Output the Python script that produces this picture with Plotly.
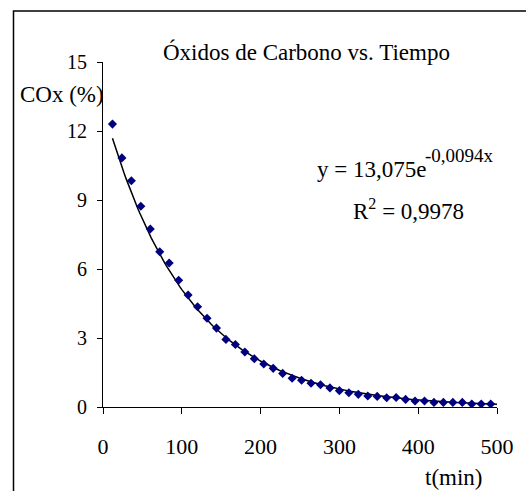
import numpy as np
import plotly.graph_objects as go

# Measured CO + CO2 content over time
tiempo_min = [12, 24, 36, 48, 60, 72, 84, 96, 108, 120, 132, 144, 156, 168, 180,
              192, 204, 216, 228, 240, 252, 264, 276, 288, 300, 312, 324, 336,
              348, 360, 372, 384, 396, 408, 420, 432, 444, 456, 468, 480, 492]
cox_pct = [12.30, 10.83, 9.84, 8.73, 7.74, 6.75, 6.26, 5.51, 4.87, 4.36, 3.86,
           3.43, 2.94, 2.72, 2.39, 2.10, 1.87, 1.68, 1.46, 1.25, 1.16, 1.03,
           0.97, 0.83, 0.71, 0.62, 0.55, 0.48, 0.46, 0.40, 0.41, 0.33, 0.26,
           0.26, 0.20, 0.20, 0.20, 0.20, 0.13, 0.13, 0.13]

# Exponential trend parameters (y = A * e^(k x))
fit_a = 13.075
fit_k = -0.0094
fit_r2 = 0.9978

x_ticks = [0, 100, 200, 300, 400, 500]
y_ticks = [0, 3, 6, 9, 12, 15]

font_family = "Liberation Serif"

t_fit = np.linspace(tiempo_min[0], 500, 200)
y_fit = fit_a * np.exp(fit_k * t_fit)

fig = go.Figure()
fig.add_trace(go.Scatter(
    x=t_fit, y=y_fit, mode="lines",
    line=dict(color="black", width=1.5),
    hoverinfo="skip", showlegend=False,
))
fig.add_trace(go.Scatter(
    x=tiempo_min, y=cox_pct, mode="markers",
    marker=dict(symbol="diamond", size=7, color="#000080"),
    showlegend=False,
))

def fmt(v):
    return str(v).replace(".", ",")

# pixel -> paper helpers for the 103..508 x 62..407 plot box
def px(x):
    return (x - 103) / 405

def py(y):
    return 1 - (y - 62) / 345

def label(text, x, y, size, anchor="center"):
    return dict(text=text, xref="paper", yref="paper", x=px(x), y=py(y),
                xanchor=anchor, yanchor="middle", showarrow=False,
                font=dict(family=font_family, size=size))

fig.update_layout(
    width=526, height=491,
    margin=dict(l=103, r=18, t=62, b=84),
    paper_bgcolor="white", plot_bgcolor="white",
    font=dict(family=font_family, color="black", size=20),
    xaxis=dict(
        range=[0, 500], tickvals=x_ticks, ticks="outside", ticklen=6,
        tickcolor="black", showline=True, linecolor="black", linewidth=1.2,
        showgrid=False, zeroline=False,
        tickfont=dict(family=font_family, size=22),
        ticklabelstandoff=13,
    ),
    yaxis=dict(
        range=[0, 15], tickvals=y_ticks, ticks="outside", ticklen=5,
        tickcolor="black", showline=True, linecolor="black", linewidth=1.2,
        showgrid=False, zeroline=False,
        tickfont=dict(family=font_family, size=20),
        ticklabelstandoff=6,
    ),
    shapes=[dict(
        type="rect", xref="paper", yref="paper",
        x0=px(11), x1=px(540), y0=py(505), y1=py(11),
        line=dict(color="black", width=1.5),
    )],
    annotations=[
        label("Óxidos de Carbono vs. Tiempo", 312, 52, 23),
        label("COx (%)", 61, 94, 23),
        label("t(min)", 464, 477, 23),
        label(f"y = {fmt(fit_a)}e", 437, 169, 23, anchor="right"),
        label(f"{fmt(fit_k)}x", 432, 155, 19, anchor="left"),
        label(f"R<sup>2</sup> = {fmt(fit_r2)}", 417, 209, 23),
    ],
)

fig.write_html("out.html")
